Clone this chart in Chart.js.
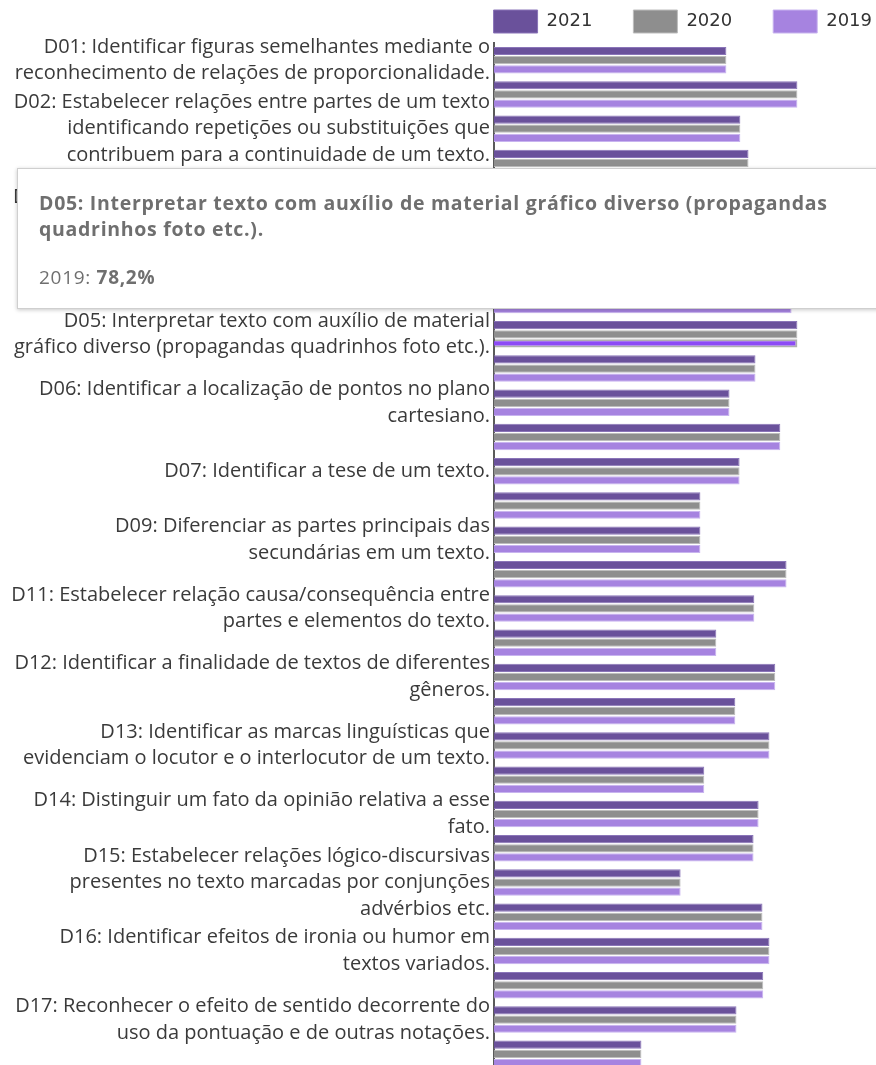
<!DOCTYPE html>
<html lang="pt-BR">
<head>
<meta charset="utf-8">
<title>Desempenho por descritor</title>
<script src="https://cdn.jsdelivr.net/npm/chart.js@4.4.0/dist/chart.umd.min.js"></script>
<style>
  html, body { margin: 0; padding: 0; background: #fff; overflow: hidden; }
  body { position: relative; width: 876px; height: 1065px; }
  #wrap { position: absolute; left: 0; top: -31px; width: 913px; height: 1102px; }
  #tip {
    position: absolute;
    left: 17px;
    width: 880px;
    box-sizing: border-box;
    padding: 21px 21px 18px;
    background: #fff;
    border: 1px solid #cfcfcf;
    box-shadow: 0 1px 4px rgba(0, 0, 0, 0.22);
    font-family: "Open Sans", sans-serif;
    letter-spacing: 0.7px;
    color: #6f6f6f;
    pointer-events: none;
  }
  #tip .titulo { font-weight: 700; font-size: 19.5px; line-height: 26px; }
  #tip .corpo { margin-top: 22px; font-size: 19px; line-height: 26px; }
  #tip .corpo b { font-weight: 700; }
</style>
</head>
<body>
<div id="wrap"><canvas id="grafico"></canvas></div>
<script>
// descritores (cada item é uma lista de linhas do rótulo)
const descritores = [
  ['D01: Identificar figuras semelhantes mediante o', 'reconhecimento de relações de proporcionalidade.'],
  ['D01: Localizar informações explícitas em um texto.'],
  ['D02: Estabelecer relações entre partes de um texto', 'identificando repetições ou substituições que', 'contribuem para a continuidade de um texto.'],
  ['D02: Identificar propriedades comuns e diferenças', 'entre figuras bidimensionais e tridimensionais.'],
  ['D03: Inferir o sentido de uma palavra ou expressão'],
  ['D03: Identificar propriedades de triângulos pela', 'comparação de medidas de lados e ângulos.'],
  ['D04: Inferir uma informação implícita', 'em um texto.'],
  ['D04: Identificar relação entre quadriláteros por', 'meio de suas propriedades.'],
  ['D05: Interpretar texto com auxílio de material', 'gráfico diverso (propagandas quadrinhos foto etc.).'],
  ['D05: Reconhecer a conservação ou modificação de', 'medidas em ampliação e redução de figuras.'],
  ['D06: Identificar a localização de pontos no plano', 'cartesiano.'],
  ['D06: Identificar o tema de um texto.'],
  ['D07: Identificar a tese de um texto.'],
  ['D08: Estabelecer relação entre a tese e os', 'argumentos oferecidos para sustentá-la.'],
  ['D09: Diferenciar as partes principais das', 'secundárias em um texto.'],
  ['D10: Identificar o conflito gerador do enredo e os', 'elementos que constroem a narrativa.'],
  ['D11: Estabelecer relação causa/consequência entre', 'partes e elementos do texto.'],
  ['D11: Reconhecer círculo/circunferência seus', 'elementos e algumas de suas relações.'],
  ['D12: Identificar a finalidade de textos de diferentes', 'gêneros.'],
  ['D12: Resolver problema envolvendo o cálculo de', 'perímetro de figuras planas.'],
  ['D13: Identificar as marcas linguísticas que', 'evidenciam o locutor e o interlocutor de um texto.'],
  ['D13: Resolver problema envolvendo o cálculo de', 'área de figuras planas.'],
  ['D14: Distinguir um fato da opinião relativa a esse', 'fato.'],
  ['D14: Resolver problema envolvendo noções de volume.'],
  ['D15: Estabelecer relações lógico-discursivas', 'presentes no texto marcadas por conjunções', 'advérbios etc.'],
  ['D15: Resolver problema envolvendo relações entre', 'diferentes unidades de medida.'],
  ['D16: Identificar efeitos de ironia ou humor em', 'textos variados.'],
  ['D16: Identificar a localização de números inteiros', 'na reta numérica.'],
  ['D17: Reconhecer o efeito de sentido decorrente do', 'uso da pontuação e de outras notações.'],
  ['D17: Identificar a localização de números racionais', 'na reta numérica.']
];

// percentual de acerto por ano
const acertos2021 = [59.9, 78.2, 63.5, 65.6, 61.0, 70.4, 58.3, 76.7, 78.2, 67.4,
                     60.7, 73.8, 63.3, 53.2, 53.2, 75.4, 67.1, 57.3, 72.5, 62.2,
                     71.0, 54.2, 68.2, 66.9, 48.1, 69.2, 71.0, 69.4, 62.5, 38.0];
const acertos2020 = [59.9, 78.2, 63.5, 65.6, 61.0, 70.4, 58.3, 76.7, 78.2, 67.4,
                     60.7, 73.8, 63.3, 53.2, 53.2, 75.4, 67.1, 57.3, 72.5, 62.2,
                     71.0, 54.2, 68.2, 66.9, 48.1, 69.2, 71.0, 69.4, 62.5, 38.0];
const acertos2019 = [59.9, 78.2, 63.5, 65.6, 61.0, 70.4, 58.3, 76.7, 78.2, 67.4,
                     60.7, 73.8, 63.3, 53.2, 53.2, 75.4, 67.1, 57.3, 72.5, 62.2,
                     71.0, 54.2, 68.2, 66.9, 48.1, 69.2, 71.0, 69.4, 62.5, 38.0];

function formatar(v) {
  return v.toFixed(1).replace('.', ',') + '%';
}

// tooltip em HTML (título em negrito, valor em negrito)
function tooltipExterno(context) {
  const {chart, tooltip} = context;
  let el = document.getElementById('tip');
  if (!el) {
    el = document.createElement('div');
    el.id = 'tip';
    document.body.appendChild(el);
  }
  if (tooltip.opacity === 0 || !tooltip.dataPoints || !tooltip.dataPoints.length) {
    el.style.opacity = 0;
    return;
  }
  const item = tooltip.dataPoints[0];
  el.innerHTML =
    '<div class="titulo">' + descritores[item.dataIndex].join(' ') + '</div>' +
    '<div class="corpo">' + item.dataset.label + ': <b>' + formatar(item.parsed.x) + '</b></div>';
  el.style.opacity = 1;
  const topo = chart.canvas.parentNode.offsetTop;
  el.style.top = (topo + tooltip.caretY - el.offsetHeight - 34) + 'px';
}

const ctx = document.getElementById('grafico');

const grafico = new Chart(ctx, {
  type: 'bar',
  data: {
    labels: descritores,
    datasets: [
      {
        label: '2021',
        data: acertos2021,
        backgroundColor: '#6a519b',
        borderColor: '#8a75b8',
        borderWidth: 1,
      },
      {
        label: '2020',
        data: acertos2020,
        backgroundColor: '#8e8e8e',
        borderColor: '#bdbdbd',
        borderWidth: 1,
      },
      {
        label: '2019',
        data: acertos2019,
        backgroundColor: '#a683e0',
        borderColor: '#c8b4ef',
        borderWidth: 1,
        hoverBorderColor: 'rgba(110, 110, 110, 0.55)',
        hoverBorderWidth: 2,
      },
    ],
  },
  options: {
    indexAxis: 'y',
    responsive: true,
    maintainAspectRatio: false,
    animation: false,
    plugins: {
      legend: {
        position: 'top',
        align: 'end',
        labels: {
          boxWidth: 44,
          boxHeight: 23,
          padding: 41,
          color: '#333',
          font: { family: 'DejaVu Sans', size: 18 },
        },
      },
      tooltip: {
        enabled: false,
        external: tooltipExterno,
      },
    },
    scales: {
      x: {
        display: false,
        min: 0,
        max: 108,
      },
      y: {
        grid: { display: false, drawTicks: false },
        border: { display: true, color: '#5a5a5a', width: 2 },
        afterFit: (scale) => {
          // largura fixa para os rótulos e sem margem extra nas pontas
          scale.width = 494;
          scale.paddingTop = 0;
          scale.paddingBottom = 0;
        },
        ticks: {
          autoSkip: false,
          padding: 4,
          color: '#3a3a3a',
          font: { family: 'Open Sans', size: 20, lineHeight: 1.33 },
          callback: function (value, index) {
            return index % 2 === 0 ? this.getLabelForValue(value) : '';
          },
        },
      },
    },
  },
});

// barra em destaque: D05, 2019
const destaque = [{ datasetIndex: 2, index: 8 }];
grafico.setActiveElements(destaque);
grafico.tooltip.setActiveElements(destaque, { x: 0, y: 0 });
grafico.update();
</script>
</body>
</html>
